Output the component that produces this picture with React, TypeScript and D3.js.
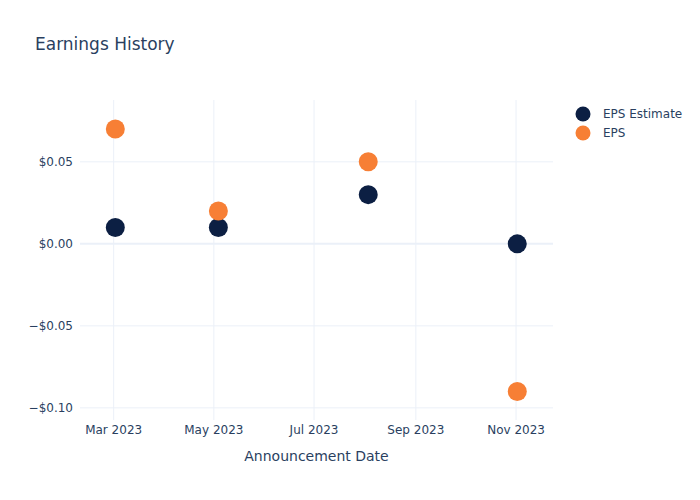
import React from "react";
import * as d3 from "d3";

const dates = ["2023-03-02", "2023-05-03T18:00", "2023-08-03", "2023-11-01T18:00"];
const epsEstimate = [0.01, 0.01, 0.03, 0.0];
const eps = [0.07, 0.02, 0.05, -0.09];
const yTicks = [-0.1, -0.05, 0, 0.05];
const xTickDates = ["2023-03-01", "2023-05-01", "2023-07-01", "2023-09-01", "2023-11-01"];
const seriesNames = ["EPS Estimate", "EPS"];
const seriesColors = ["#0c1f43", "#f77f35"];

const W = 700, H = 500;
const M = { l: 80, r: 147, t: 100, b: 80 };
const FONT = "'DejaVu Sans', Verdana, sans-serif";
const TXT = "#2a3f5f";
const GRID = "#ebf0f8";

export default function App() {
  const parse = (s: string) => new Date(s);
  const x = d3.scaleTime()
    .domain([new Date("2023-02-08T12:00"), new Date("2023-11-23T12:00")])
    .range([M.l, W - M.r]);
  const y = d3.scaleLinear().domain([-0.1074, 0.0877]).range([H - M.b, M.t]);
  const fmtY = (v: number) => (v < 0 ? "\u2212$" : "$") + Math.abs(v).toFixed(2);
  const fmtX = d3.timeFormat("%b %Y");
  const series = [epsEstimate, eps];

  return (
    <svg width={W} height={H} style={{ position: "absolute", left: 0, top: 0, background: "#fff" }}>
      <rect x={0} y={0} width={W} height={H} fill="#fff" />
      {xTickDates.map((d) => (
        <line key={d} x1={x(parse(d))} x2={x(parse(d))} y1={M.t} y2={H - M.b} stroke={GRID} strokeWidth={1} />
      ))}
      {yTicks.map((t) => (
        <line key={t} x1={M.l} x2={W - M.r} y1={y(t)} y2={y(t)} stroke={GRID} strokeWidth={t === 0 ? 2 : 1} />
      ))}
      {yTicks.map((t) => (
        <text key={t} x={M.l - 7} y={y(t)} dy="0.35em" textAnchor="end" fontSize={12} fill={TXT} fontFamily={FONT}>
          {fmtY(t)}
        </text>
      ))}
      {xTickDates.map((d) => (
        <text key={d} x={x(parse(d))} y={433.5} textAnchor="middle" fontSize={12} fill={TXT} fontFamily={FONT}>
          {fmtX(parse(d))}
        </text>
      ))}
      {series.map((vals, si) =>
        vals.map((v, i) => (
          <circle key={`${si}-${i}`} cx={x(parse(dates[i]))} cy={y(v)} r={9.5} fill={seriesColors[si]} />
        ))
      )}
      <text x={35} y={50} fontSize={17} fill={TXT} fontFamily={FONT}>Earnings History</text>
      <text x={(M.l + W - M.r) / 2} y={461} textAnchor="middle" fontSize={14} fill={TXT} fontFamily={FONT}>
        Announcement Date
      </text>
      {seriesNames.map((n, i) => (
        <g key={n} transform={`translate(583, ${114 + i * 19})`}>
          <circle cx={0} cy={0} r={7.5} fill={seriesColors[i]} />
          <text x={20} y={0} dy="0.35em" fontSize={12} fill={TXT} fontFamily={FONT}>{n}</text>
        </g>
      ))}
    </svg>
  );
}
